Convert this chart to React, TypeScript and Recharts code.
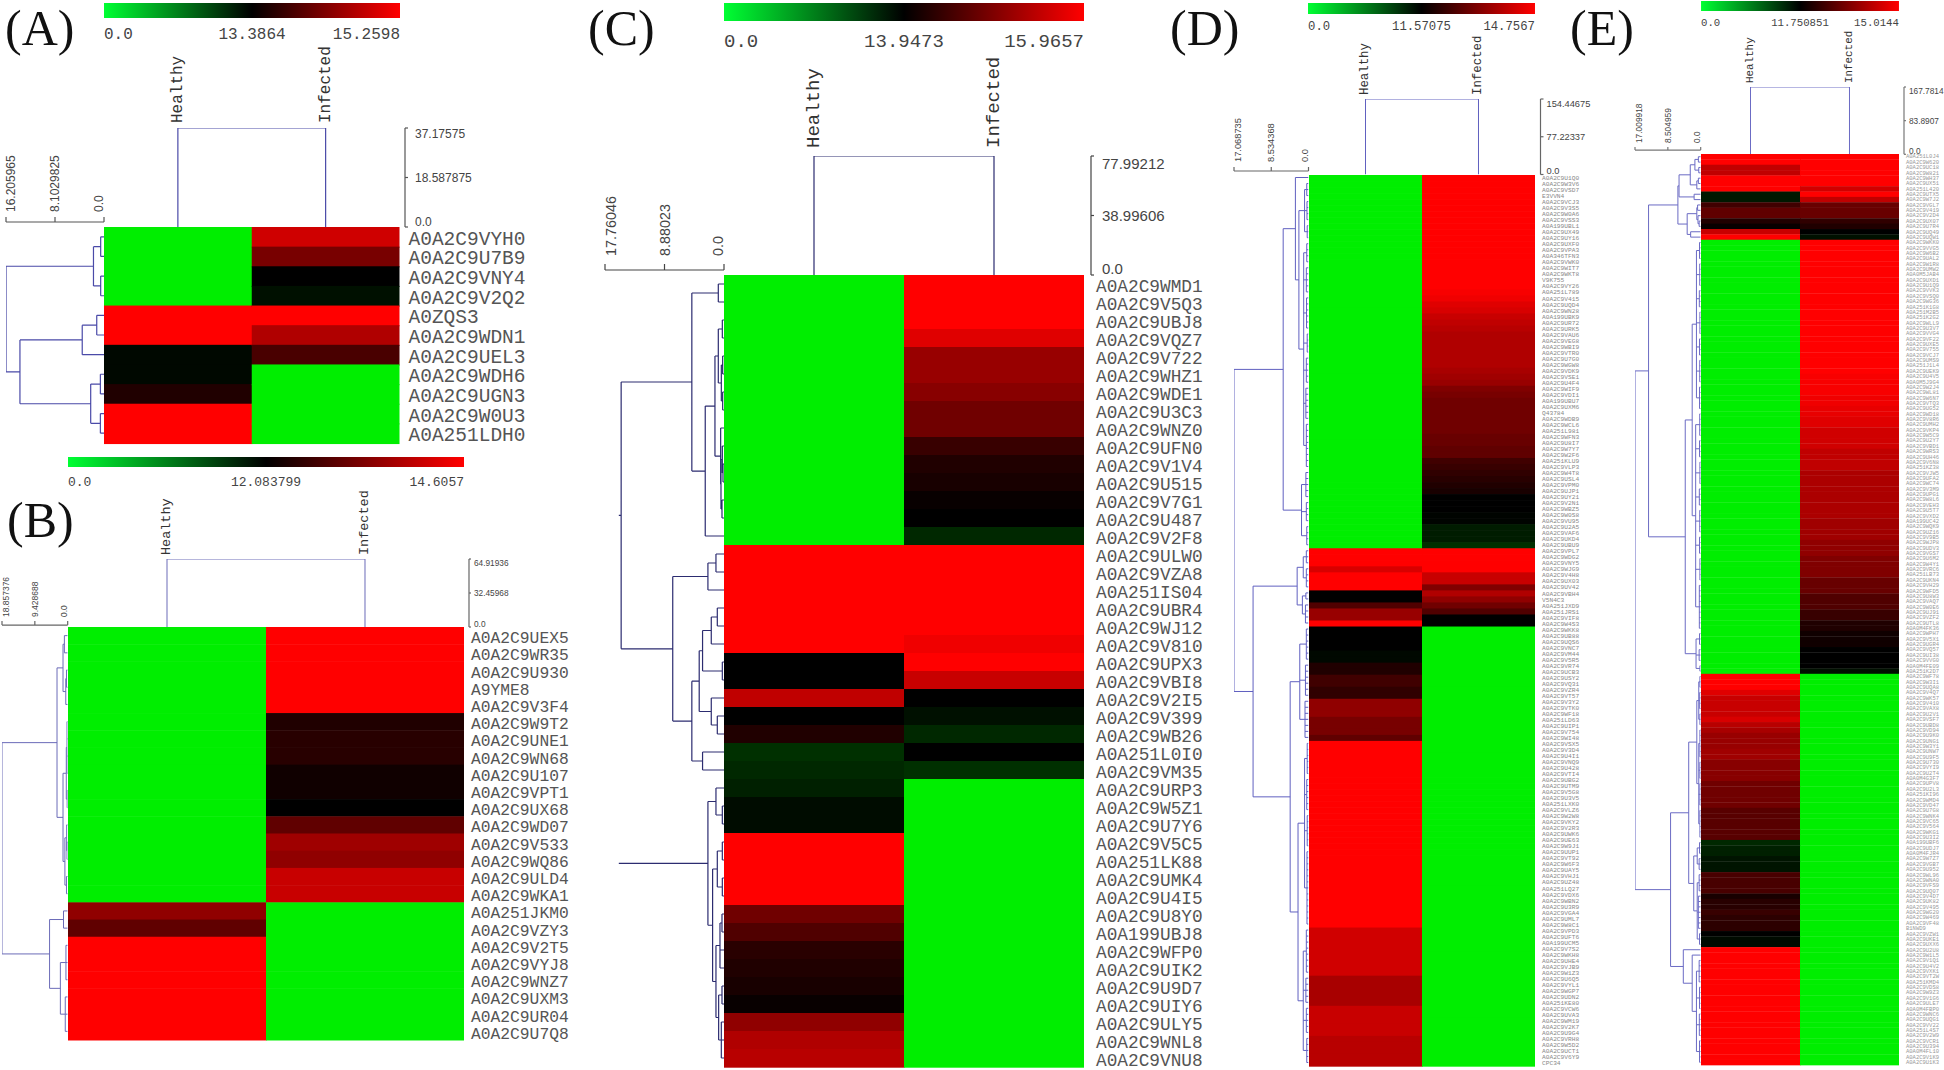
import { BarChart, Bar, LineChart, Line, XAxis, YAxis } from 'recharts'

type Tree = number | Tree[]

const MONO = '"Liberation Mono", monospace'
const SANS = '"Liberation Sans", Arial, sans-serif'

const columns = ['Healthy', 'Infected']

// panel A
const labelsA = ['VYH0', 'U7B9', 'VNY4', 'V2Q2', 'A0ZQS3', 'WDN1', 'UEL3', 'WDH6', 'UGN3', 'W0U3', 'A0A251LDH0']
const healthyA = [0, 0, 0, 0, 15.26, 15.26, 12.95, 12.95, 13.62, 15.26, 15.26]
const infectedA = [14.91, 14.27, 13.39, 12.5, 15.26, 14.68, 13.92, 0, 0, 0, 0]
const colorTicksA = ['0.0', '13.3864', '15.2598']
const leftTicksA = [0, 8.1029825, 16.205965]
const topTicksA = [0, 18.587875, 37.17575]
const treeA: Tree = [16.2, [1.74, [0.55, 0, 1], [0.55, 2, 3]], [13.9, [3.6, [1.2, 4, 5], 6], [2.2, [0.6, 7, 8], [0.6, 9, 10]]]]

// panel B
const labelsB = ['UEX5', 'WR35', 'U930', 'A9YME8', 'V3F4', 'W9T2', 'UNE1', 'WN68', 'U107', 'VPT1', 'UX68', 'WD07', 'V533', 'WQ86', 'ULD4', 'WKA1', 'A0A251JKM0', 'VZY3', 'V2T5', 'VYJ8', 'WNZ7', 'UXM3', 'UR04', 'U7Q8']
const healthyB = [0, 0, 0, 0, 0, 0, 0, 0, 0, 0, 0, 0, 0, 0, 0, 0, 13.51, 13.03, 14.61, 14.61, 14.61, 14.61, 14.61, 14.61]
const infectedB = [14.61, 14.61, 14.61, 14.61, 14.61, 12.4, 12.48, 12.48, 12.24, 12.24, 12.08, 13.03, 13.66, 13.51, 14.06, 14.06, 0, 0, 0, 0, 0, 0, 0, 0]
const colorTicksB = ['0.0', '12.083799', '14.6057']
const leftTicksB = [0, 9.428688, 18.857376]
const topTicksB = [0, 32.45968, 64.91936]
const treeB: Tree = [18.857,
  [3.06,
    [1.34, [0.95, 0, 1], [0.55, [0.35, 2, 3], 4]],
    [1.34, [0.4, [0.2, 5, 6, 7, 8], [0.15, 9, 10]], [0.8, [0.3, 11, [0.2, 12, 13]], [0.35, 14, 15]]]],
  [5.2, [1.2, 16, 17], [2.1, [0.5, 18, 19, 20], [0.7, 21, 22, 23]]]]

// panel C
const labelsC = ['WMD1', 'V5Q3', 'UBJ8', 'VQZ7', 'V722', 'WHZ1', 'WDE1', 'U3C3', 'WNZ0', 'UFN0', 'V1V4', 'U515', 'V7G1', 'U487', 'V2F8', 'ULW0', 'VZA8', 'A0A251IS04', 'UBR4', 'WJ12', 'V810', 'UPX3', 'VBI8', 'V2I5', 'V399', 'WB26', 'A0A251L0I0', 'VM35', 'URP3', 'W5Z1', 'U7Y6', 'V5C5', 'A0A251LK88', 'UMK4', 'U4I5', 'U8Y0', 'A0A199UBJ8', 'WFP0', 'UIK2', 'U9D7', 'UIY6', 'ULY5', 'WNL8', 'VNU8']
const healthyC = [
  0, 0, 0, 0, 0, 0, 0, 0, 0, 0,
  0, 0, 0, 0, 0, 15.97, 15.97, 15.97, 15.97, 15.97,
  15.97, 13.95, 13.95, 15.47, 13.95, 14.2, 11.16, 11.62, 12.09, 13.25,
  13.25, 15.97, 15.97, 15.97, 15.97, 14.83, 14.58, 14.27, 14.2, 14.14,
  14.01, 15.09, 15.34, 15.4]
const infectedC = [
  15.97, 15.97, 15.97, 15.72, 15.15, 15.15, 15.02, 14.83, 14.83, 14.39,
  14.2, 14.14, 14.01, 13.95, 11.62, 15.97, 15.97, 15.97, 15.97, 15.97,
  15.85, 15.97, 15.53, 13.95, 13.02, 11.62, 13.95, 11.16, 0, 0,
  0, 0, 0, 0, 0, 0, 0, 0, 0, 0,
  0, 0, 0, 0]
const colorTicksC = ['0.0', '13.9473', '15.9657']
const leftTicksC = [0, 8.88023, 17.76046]
const topTicksC = [0, 38.99606, 77.99212]
const treeC: Tree = [15.7,
  [15.35,
    [4.8, [0.85, 0, 1],
      [2.8,
        [1.35,
          [0.85, [0.25, 2, 3], [0.4, [0.2, 4, 5], [0.2, 6, 7]]],
          [0.5, 8, [0.45, [0.25, 9, [0.15, 10, 11]], [0.3, 12, 13]]]],
        14]],
    [7.65,
      [2.4, [1.2, 15, 16], 17],
      [4.8,
        [3.7,
          [3.2, [1.9, [1, 18, 19], 20], [0.25, 21, 22]],
          [1.9, 23, [1, 24, 25]]],
        [3.2, 26, 27]]]],
  [2.4,
    [1.2, 28, [0.25, 29, 30]],
    [1.7, [1, [0.25, 31, 32], [0.25, 33, 34]],
      [1.2, [0.6, [0.3, 35, 36], 37, 38], [0.8, [0.3, 39, 40], [0.4, 41, 42, 43]]]]]]

// panel D
const labelsD = [
  'U1Q0', 'W3V6', 'VSD7', 'E3VVN4', 'VCJ3', 'V3S5', 'W0A6', 'VSS3', 'A0A199UBL1', 'UX49',
  'UY16', 'UXF0', 'VPA3', 'A0A346TFN3', 'VWK0', 'WIT7', 'WKT8', 'V9K755', 'VY26', 'A0A251L789',
  'V415', 'UQD4', 'WN28', 'A0A199UBK9', 'UR72', 'URK5', 'VAU6', 'VEG8', 'WBI9', 'VTR0',
  'U7G0', 'WGW8', 'VDK9', 'VSE1', 'U4F4', 'WIF9', 'VDI1', 'A0A199UBU7', 'UXM6', 'Q43784',
  'WDB9', 'WCL6', 'A0A251L981', 'WFN3', 'U8I7', 'W7Y7', 'W2F6', 'A0A251KLU9', 'VLP3', 'W4T8',
  'USL4', 'VPM0', 'UJP1', 'UY21', 'V2N1', 'WBZ5', 'W0S8', 'VU95', 'U2A5', 'VAF6',
  'UKD4', 'UBU9', 'VPL7', 'WDG2', 'VNY5', 'WJG9', 'V4H8', 'UX03', 'UV42', 'VBH4',
  'V5N4C3', 'A0A251JXD9', 'A0A251JRS1', 'VIF8', 'W4S3', 'WKK8', 'UB88', 'UQS6', 'VNC7', 'VM44',
  'V5R5', 'VR74', 'UCB3', 'USY2', 'VQ31', 'VZR4', 'VT57', 'V3Y2', 'VTK0', 'WF18',
  'A0A251LD63', 'UIP1', 'V754', 'WI48', 'VSX5', 'V3D4', 'U4I1', 'VNQ9', 'U428', 'VTI4',
  'UBG2', 'UTM9', 'V5G8', 'U3V5', 'A0A251LXK0', 'VLZ6', 'W2W8', 'VKY2', 'V2R3', 'UWK6',
  'UE63', 'W9J1', 'UUP1', 'VT92', 'W6F3', 'UAY5', 'VHJ1', 'UZ48', 'A0A251LQ27', 'VDX6',
  'WBN2', 'U3R9', 'VGA4', 'UML7', 'W8C1', 'VPD3', 'UFT6', 'A0A199UCM5', 'V7S2', 'WKH8',
  'UHE4', 'VJB9', 'W1Z3', 'U6Q5', 'VYL1', 'WGP7', 'UDN2', 'A0A251KE80', 'VCW6', 'UVA3',
  'WM19', 'V2K7', 'U9G4', 'VRH8', 'W5D2', 'UCT1', 'V6Y9', 'CPC34']
const healthyD = [
  0, 0, 0, 0, 0, 0, 0, 0, 0, 0,
  0, 0, 0, 0, 0, 0, 0, 0, 0, 0,
  0, 0, 0, 0, 0, 0, 0, 0, 0, 0,
  0, 0, 0, 0, 0, 0, 0, 0, 0, 0,
  0, 0, 0, 0, 0, 0, 0, 0, 0, 0,
  0, 0, 0, 0, 0, 0, 0, 0, 0, 0,
  0, 0, 14.76, 14.76, 14.76, 14.27, 14.76, 14.76, 14.76, 11.57,
  11.57, 12.57, 13.47, 13.47, 14.76, 11.57, 11.57, 11.57, 11.57, 11.18,
  11.18, 11.97, 11.97, 12.37, 12.37, 12.17, 12.17, 13.37, 13.37, 13.37,
  13.07, 13.07, 13.07, 12.77, 14.76, 14.76, 14.76, 14.76, 14.76, 14.76,
  14.76, 14.76, 14.76, 14.76, 14.76, 14.76, 14.76, 14.76, 14.76, 14.76,
  14.76, 14.76, 14.76, 14.76, 14.76, 14.76, 14.76, 14.76, 14.76, 14.76,
  14.76, 14.76, 14.76, 14.76, 14.76, 14.17, 14.17, 14.17, 14.17, 14.17,
  14.17, 14.17, 14.17, 13.67, 13.67, 13.67, 13.67, 13.67, 14.07, 14.07,
  14.07, 14.07, 14.07, 13.87, 13.87, 13.87, 13.87, 13.87]
const infectedD = [
  14.76, 14.76, 14.76, 14.76, 14.76, 14.76, 14.76, 14.76, 14.76, 14.76,
  14.76, 14.76, 14.76, 14.76, 14.76, 14.76, 14.76, 14.76, 14.76, 14.67,
  14.57, 14.37, 14.27, 14.07, 13.97, 13.87, 13.77, 13.77, 13.77, 13.77,
  13.77, 13.77, 13.67, 13.57, 13.47, 13.17, 13.07, 12.97, 12.97, 12.97,
  12.97, 12.97, 12.97, 12.87, 12.87, 12.77, 12.77, 12.37, 12.27, 12.17,
  12.07, 11.97, 11.87, 11.57, 11.57, 11.57, 11.37, 11.37, 10.22, 10.22,
  10.22, 9.26, 14.76, 14.76, 14.76, 14.76, 14.07, 14.07, 13.17, 13.77,
  13.37, 12.97, 12.57, 11.57, 11.57, 0, 0, 0, 0, 0,
  0, 0, 0, 0, 0, 0, 0, 0, 0, 0,
  0, 0, 0, 0, 0, 0, 0, 0, 0, 0,
  0, 0, 0, 0, 0, 0, 0, 0, 0, 0,
  0, 0, 0, 0, 0, 0, 0, 0, 0, 0,
  0, 0, 0, 0, 0, 0, 0, 0, 0, 0,
  0, 0, 0, 0, 0, 0, 0, 0, 0, 0,
  0, 0, 0, 0, 0, 0, 0, 0]
const colorTicksD = ['0.0', '11.57075', '14.7567']
const leftTicksD = [0, 8.534368, 17.068735]
const topTicksD = [0, 77.22337, 154.44675]
const treeD: Tree = [17.07,
  [5.8,
    [3, 0, [2.2,
      [0.9, [0.4, 1, 2, 3], [0.35, 4, 5, 6, 7], [0.3, 8, 9, 10]],
      [1.1, [0.4, 11, 12, 13, 14], [0.5, 15, 16, 17, 18, 19], [0.45, 20, 21, 22, 23, 24, 25], [0.3, 26, 27, 28, 29], [0.5, 30, 31, 32, 33, 34], [0.6, 35, 36, 37, 38, 39, 40], [0.5, 41, 42, 43, 44, 45, 46, 47, 48]]]],
    [1.6, [0.6, 49, 50, 51, 52, 53], [0.5, 54, 55, 56, 57], [0.4, 58, 59, 60, 61]]],
  [12.7,
    [2.6, [1.2, [0.5, 62, 63, 64], [0.5, 65, 66, 67, 68]], [1.4, [0.6, 69, 70], [0.7, 71, 72, 73, 74]]],
    [4.2,
      [2, [0.5, 75, 76, 77, 78, 79, 80], [0.7, 81, 82, 83, 84, 85, 86], [0.8, 87, 88, 89, 90, 91, 92, 93]],
      [2.4,
        [0.9, [0.3, 94, 95, 96, 97, 98, 99], [0.4, 100, 101, 102, 103, 104, 105], [0.3, 106, 107, 108, 109, 110, 111], [0.35, 112, 113, 114, 115, 116, 117, 118, 119, 120, 121, 122, 123, 124]],
        [1.2, [0.5, 125, 126, 127, 128, 129, 130, 131, 132], [0.6, 133, 134, 135, 136, 137], [0.5, 138, 139, 140, 141, 142], [0.4, 143, 144, 145, 146, 147]]]]]]

// panel E
const labelsE = [
  'A0A251L0J4', 'W620', 'UC18', 'W821', 'WH37', 'UX51', 'A0A251L420', 'UTX5', 'W7J2', 'VGL7',
  'V419', 'V2D4', 'UX07', 'U7R4', 'UQ49', 'UQW1', 'WKK0', 'VVG5', 'W6B2', 'UAL2',
  'W1R8', 'UMW2', 'A0A0M5JAB4', 'UXD1', 'U1Q9', 'VVK3', 'VSQ0', 'WG36', 'A0A251K1G8', 'A0A251M2B5',
  'A0A251K2G2', 'WLL9', 'U3V7', 'VVG4', 'VF22', 'UXE5', 'V755', 'VCJ7', 'UMS9', 'A0A251J1L4',
  'UEK9', 'U4V5', 'A0A0M5J9G4', 'W2J4', 'WL81', 'W6N7', 'VTQ3', 'UG52', 'WD18', 'V8R6',
  'UMH2', 'VKP4', 'W5C9', 'U2Y7', 'VBD1', 'WRS3', 'UH46', 'V6N8', 'A0A251KZ38', 'VJW5',
  'UFA2', 'WC74', 'V3M9', 'UPG1', 'W8L6', 'VEH3', 'U5T7', 'VXD2', 'A0A199UC42', 'WQK9',
  'UZ16', 'V9B5', 'WJP8', 'UDV3', 'VGS7', 'U6M2', 'W4Y1', 'VRC6', 'A0A251LB73', 'UKN4',
  'VH29', 'WFD5', 'U8W3', 'VAQ7', 'W0E6', 'UJ91', 'VZF2', 'UTL8', 'A0A0M4FK36', 'WPH7',
  'V5X1', 'UGR4', 'VQ57', 'UI38', 'VVG0', 'A0A0M4FE09', 'A0A251K2D7', 'WF78', 'W3I1', 'UQA8',
  'V4Q7', 'WK57', 'V410', 'VAX8', 'U2V1', 'VSF7', 'UBD8', 'VD94', 'U9K0', 'UNG1',
  'W3Y1', 'UNW7', 'U9F5', 'U730', 'VYI9', 'U2T4', 'A0A0M4G3F7', 'UPV8', 'U2L3', 'A0A251KI96',
  'WMD4', 'VD47', 'U7G8', 'WNK4', 'VC65', 'V564', 'WKG1', 'U3I2', 'A0A199UBF6', 'UDJ7',
  'A0A0M4FJR4', 'W7Z7', 'VGB7', 'U952', 'WL96', 'WNA0', 'VFS9', 'UQ07', 'V4D7', 'UK82',
  'V495', 'WG20', 'W469', 'VF48', 'B1NWD9', 'VZW1', 'UKE1', 'UXX6', 'U2U8', 'W1L5',
  'V1Q1', 'U4V2', 'VXK1', 'VT2W', 'A0A251KMD4', 'VDS8', 'W9Z3', 'V1G6', 'ULE7', 'A0A0M4FBP0',
  'WNC6', 'UQG1', 'VV22', 'A0A251L4S7', 'V2W9', 'VCR1', 'U394', 'A0A0M4FL10', 'V1K9', 'U1K3']
const healthyE = [
  15.01, 15.01, 14.21, 14.21, 15.01, 15.01, 15.01, 10.58, 10.58, 12.57,
  12.98, 12.98, 12.16, 11.85, 14.31, 15.01, 0, 0, 0, 0,
  0, 0, 0, 0, 0, 0, 0, 0, 0, 0,
  0, 0, 0, 0, 0, 0, 0, 0, 0, 0,
  0, 0, 0, 0, 0, 0, 0, 0, 0, 0,
  0, 0, 0, 0, 0, 0, 0, 0, 0, 0,
  0, 0, 0, 0, 0, 0, 0, 0, 0, 0,
  0, 0, 0, 0, 0, 0, 0, 0, 0, 0,
  0, 0, 0, 0, 0, 0, 0, 0, 0, 0,
  0, 0, 0, 0, 0, 0, 0, 15.01, 15.01, 15.01,
  14.62, 14.31, 14.31, 14.31, 14.31, 14.51, 14.11, 13.9, 13.7, 13.7,
  13.7, 13.8, 13.8, 13.49, 13.49, 13.49, 13.49, 13.18, 13.18, 13.18,
  13.18, 13.18, 12.88, 12.88, 12.88, 12.88, 12.88, 12.88, 9.79, 10.18,
  10.18, 10.77, 10.77, 10.77, 12.67, 12.67, 12.67, 12.67, 12.06, 12.26,
  12.26, 12.47, 12.31, 12.31, 12.31, 11.75, 11.26, 11.26, 15.01, 15.01,
  15.01, 15.01, 15.01, 15.01, 15.01, 15.01, 15.01, 15.01, 15.01, 15.01,
  15.01, 15.01, 15.01, 15.01, 15.01, 15.01, 15.01, 15.01, 15.01, 15.01]
const infectedE = [
  15.01, 15.01, 15.01, 15.01, 15.01, 15.01, 14.41, 15.01, 14.21, 13.08,
  13.08, 13.08, 12.36, 12.16, 11.75, 10.97, 15.01, 15.01, 15.01, 15.01,
  15.01, 15.01, 15.01, 15.01, 15.01, 15.01, 15.01, 15.01, 15.01, 15.01,
  15.01, 15.01, 15.01, 15.01, 15.01, 15.01, 15.01, 15.01, 15.01, 15.01,
  15.01, 14.92, 14.92, 14.92, 14.92, 14.82, 14.82, 14.72, 14.72, 14.62,
  14.62, 14.41, 14.41, 14.41, 14.41, 14.21, 14.21, 14.21, 14.21, 13.95,
  13.95, 13.95, 13.95, 13.95, 13.95, 13.95, 13.95, 13.95, 13.8, 13.8,
  13.8, 13.8, 13.6, 13.6, 13.6, 13.39, 13.39, 13.39, 13.39, 13.08,
  13.08, 13.08, 12.77, 12.77, 12.77, 12.47, 12.47, 12.16, 12.16, 11.95,
  11.95, 11.95, 11.75, 11.75, 11.75, 11.75, 10.97, 0, 0, 0,
  0, 0, 0, 0, 0, 0, 0, 0, 0, 0,
  0, 0, 0, 0, 0, 0, 0, 0, 0, 0,
  0, 0, 0, 0, 0, 0, 0, 0, 0, 0,
  0, 0, 0, 0, 0, 0, 0, 0, 0, 0,
  0, 0, 0, 0, 0, 0, 0, 0, 0, 0,
  0, 0, 0, 0, 0, 0, 0, 0, 0, 0,
  0, 0, 0, 0, 0, 0, 0, 0, 0, 0]
const colorTicksE = ['0.0', '11.750851', '15.0144']
const leftTicksE = [0, 8.504959, 17.009918]
const topTicksE = [0, 83.8907, 167.7814]
const treeE: Tree = [17.0,
  [13.5,
    [5.9,
      [5.6, [2.7, [1.5, [0.6, 0, 1], [0.5, 2, 3]], [1, [0.6, 4, 5], 6]], [1.7, 7, 8]],
      [3.5, [1, [0.8, 9, 10], [0.7, 11, [0.4, 12, 13]]], [2.6, 14, 15]]],
    [4,
      [2.2,
        [1.1,
          [0.3, 16, 17, 18, 19], [0.25, 20, 21, 22, 23, 24], [0.35, 25, 26, 27, 28], [0.2, 29, 30, 31, 32, 33],
          [0.3, 34, 35, 36, 37], [0.25, 38, 39, 40, 41, 42], [0.3, 43, 44, 45, 46, 47]],
        [1.3,
          [0.25, 48, 49, 50, 51, 52], [0.3, 53, 54, 55, 56], [0.2, 57, 58, 59, 60, 61], [0.35, 62, 63, 64, 65],
          [0.25, 66, 67, 68, 69, 70], [0.3, 71, 72, 73, 74], [0.2, 75, 76, 77, 78, 79], [0.35, 80, 81, 82, 83, 84, 85, 86, 87, 88]]],
      [1.2, [0.3, 89, 90, 91], [0.4, 92, 93, 94], [0.2, 95, 96]]]],
  [7.8,
    [3.1,
      [1,
        [0.5, [0.2, 97, 98, 99], [0.25, 100, 101, 102, 103], [0.2, 104, 105, 106]],
        [0.5, [0.2, 107, 108, 109, 110, 111, 112], [0.2, 113, 114, 115, 116], [0.2, 117, 118, 119, 120, 121], [0.2, 122, 123, 124, 125, 126, 127]]],
      [1.8,
        [0.9, [0.3, 128, 129, 130], [0.4, 131, 132, 133]],
        [0.9, [0.4, 134, 135, 136, 137], [0.6, 138, 139, 140, 141, 142, 143, 144], [0.3, 145, 146, 147]]]],
    [4.5, 148, [2.2, 149,
      [1.1,
        [0.4, 150, 151, 152, 153, 154], [0.3, 155, 156, 157, 158, 159],
        [0.35, 160, 161, 162, 163, 164], [0.3, 165, 166, 167, 168, 169]]]]]]

function fullName(s: string) {
  return s.length === 4 ? `A0A2C9${s}` : s
}

// green below mid, black at mid, red up to max
function heatColor(v: number, mid: number, max: number) {
  if (v <= mid) return `rgb(0,${Math.round(238 * (1 - v / mid))},0)`
  return `rgb(${Math.round(255 * Math.min(1, (v - mid) / (max - mid)))},0,0)`
}

function flatten(tree: Tree, out: any[], noStem: boolean): { y: number; h: number } {
  if (typeof tree === 'number') return { y: tree + 0.5, h: 0 }
  const [h, ...kids] = tree as [number, ...Tree[]]
  const pos = kids.map((k) => flatten(k, out, false))
  const y0 = pos[0].y
  const y1 = pos[pos.length - 1].y
  if (!noStem) out.push({ h, y: y0 }, { h, y: y1 }, { h, y: null })
  pos.forEach((p) => out.push({ h: p.h, y: p.y }, { h, y: p.y }, { h, y: null }))
  return { y: (y0 + y1) / 2, h }
}

function tickText(v: number) {
  return v === 0 ? '0.0' : String(v)
}

function ColorBar({ id, p }: { id: string; p: any }) {
  const axisH = p.bar.labelY - p.bar.y - p.bar.h + p.bar.font
  const ticks = p.colorTicks as string[]
  return (
    <div style={{ position: 'absolute', left: p.bar.x, top: p.bar.y }}>
      <BarChart width={p.bar.w} height={p.bar.h + axisH} data={[{ name: 'scale', v: 1 }]} layout="vertical" margin={{ top: 0, right: 0, bottom: 0, left: 0 }} barCategoryGap={0}>
        <defs>
          <linearGradient id={id} x1="0" y1="0" x2="1" y2="0">
            <stop offset="0%" stopColor="#00ff33" />
            <stop offset="50%" stopColor="#000000" />
            <stop offset="100%" stopColor="#ff0000" />
          </linearGradient>
        </defs>
        <XAxis
          type="number"
          domain={[0, 1]}
          ticks={[0, 0.5, 1]}
          height={axisH}
          axisLine={false}
          tickLine={false}
          tickSize={0}
          tickMargin={0}
          interval={0}
          tick={(t: any) => (
            <text x={t.x} y={t.y + p.bar.labelY - p.bar.y - p.bar.h} fontFamily={MONO} fontSize={p.bar.font} fill="#444" dominantBaseline="central" textAnchor={t.index === 0 ? 'start' : t.index === 1 ? 'middle' : 'end'}>
              {ticks[t.index]}
            </text>
          )}
        />
        <YAxis type="category" dataKey="name" hide />
        <Bar dataKey="v" fill={`url(#${id})`} isAnimationActive={false} />
      </BarChart>
    </div>
  )
}

function HeatMap({ p }: { p: any }) {
  const { mid, max } = p
  const rows = p.labels.map((s: string, i: number) => ({ name: fullName(s), healthy: p.healthy[i], infected: p.infected[i], a: 1, b: 1 }))
  const labelW = p.labelW
  // each cell runs a little past its lower edge so rows don't show hairline gaps
  const cell = (key: string, overlapX: number) => (b: any) => (
    <rect x={b.x} y={b.y} width={b.width + overlapX} height={b.height + 0.7} fill={heatColor(b.payload[key], mid, max)} />
  )
  return (
    <div style={{ position: 'absolute', left: p.heat.x, top: p.heat.y }}>
      <BarChart width={p.heat.w + labelW} height={p.heat.h + 8} data={rows} layout="vertical" margin={{ top: 0, right: 0, bottom: 8, left: 0 }} barCategoryGap={0}>
        <XAxis type="number" domain={[0, 2]} hide />
        <YAxis
          type="category"
          dataKey="name"
          orientation="right"
          width={labelW}
          interval={0}
          axisLine={false}
          tickLine={false}
          tickSize={0}
          tickMargin={0}
          tick={(t: any) => (
            <text x={t.x + p.labelGap} y={t.y + p.labelDy} fontFamily={MONO} fontSize={p.labelFont} fill={p.labelColor} dominantBaseline="central">
              {t.payload.value}
            </text>
          )}
        />
        <Bar dataKey="a" stackId="s" isAnimationActive={false} shape={cell('healthy', 0.6)} />
        <Bar dataKey="b" stackId="s" isAnimationActive={false} shape={cell('infected', 0)} />
      </BarChart>
    </div>
  )
}

function RowDendrogram({ p }: { p: any }) {
  const s = p.left
  const points: any[] = []
  flatten(p.tree, points, !!p.noRootStem)
  const maxH = p.leftTicks[2]
  const axisH = s.axisH
  const bottom = p.heat.y + p.heat.h
  const rowH = p.heat.h / p.labels.length
  const side = 10
  return (
    <div style={{ position: 'absolute', left: s.x - side, top: s.y - axisH }}>
      <LineChart width={p.heat.x - s.x + side * 2} height={axisH + bottom - s.y} data={points} margin={{ top: 0, right: side, bottom: 0, left: side }}>
        <XAxis
          type="number"
          dataKey="h"
          orientation="top"
          reversed
          domain={[0, maxH]}
          ticks={p.leftTicks}
          height={axisH}
          interval={0}
          allowDataOverflow
          stroke={p.axisColor}
          axisLine={{ stroke: p.axisColor, strokeWidth: 1.2 }}
          tickLine={{ stroke: p.axisColor, strokeWidth: 1.2 }}
          tickSize={s.tick}
          tickMargin={0}
          tick={(t: any) => {
            const v = t.payload.value
            const shift = v === 0 ? -s.font * 0.42 : v === maxH ? s.font * 0.42 : 0
            const yy = axisH - s.labelBottom
            return (
              <text transform={`rotate(-90 ${t.x + shift} ${yy})`} x={t.x + shift} y={yy} fontFamily={SANS} fontSize={s.font} fill="#444" dominantBaseline="central">
                {tickText(v)}
              </text>
            )
          }}
        />
        <YAxis type="number" reversed hide domain={[-(p.heat.y - s.y) / rowH, p.labels.length]} allowDataOverflow />
        <Line dataKey="y" stroke={p.lineColor} strokeWidth={p.lineWidth} dot={false} activeDot={false} isAnimationActive={false} connectNulls={false} />
      </LineChart>
    </div>
  )
}

function ColumnDendrogram({ p }: { p: any }) {
  const s = p.top
  const maxH = p.topTicks[2]
  const colW = p.heat.w / 2
  const extra = (s.x - p.heat.x - p.heat.w) / colW
  const axisH = s.axisH
  const bracket = [
    { col: 0, h: p.topTicks[0] },
    { col: 0, h: maxH },
    { col: 1, h: maxH },
    { col: 1, h: p.topTicks[0] },
  ]
  const rightW = s.rightW
  const pad = s.font
  return (
    <div style={{ position: 'absolute', left: p.heat.x, top: s.y - axisH }}>
      <LineChart width={s.x - p.heat.x + rightW} height={axisH + p.heat.y - s.y + pad} data={bracket} margin={{ top: 0, right: 0, bottom: pad, left: 0 }}>
        <XAxis
          type="number"
          dataKey="col"
          orientation="top"
          domain={[-0.5, 1.5 + extra]}
          ticks={[0, 1]}
          height={axisH}
          interval={0}
          allowDataOverflow
          axisLine={false}
          tickLine={false}
          tickSize={0}
          tickMargin={0}
          tick={(t: any) => (
            <text transform={`rotate(-90 ${t.x} ${axisH - s.labelGap})`} x={t.x} y={axisH - s.labelGap} fontFamily={MONO} fontSize={s.colFont} fill="#333" dominantBaseline="central">
              {columns[t.payload.value]}
            </text>
          )}
        />
        <YAxis
          type="number"
          orientation="right"
          domain={[0, maxH]}
          ticks={p.topTicks}
          width={rightW}
          interval={0}
          allowDataOverflow
          axisLine={{ stroke: p.axisColor, strokeWidth: 1.2 }}
          tickLine={{ stroke: p.axisColor, strokeWidth: 1.2 }}
          tickSize={s.tick}
          tickMargin={0}
          tick={(t: any) => {
            const v = t.payload.value
            const shift = v === 0 ? -s.font * 0.42 : v === maxH ? s.font * 0.5 : 0
            return (
              <text x={t.x + s.labelGapX} y={t.y + shift} fontFamily={SANS} fontSize={s.font} fill="#444" dominantBaseline="central">
                {tickText(v)}
              </text>
            )
          }}
        />
        <Line dataKey="h" stroke={p.lineColor} strokeWidth={p.lineWidth} dot={false} activeDot={false} isAnimationActive={false} />
      </LineChart>
    </div>
  )
}

const panels = [
  {
    name: '(A)', letter: { x: 5, y: -1 }, mid: 13.3864, max: 15.2598, labels: labelsA, healthy: healthyA, infected: infectedA, colorTicks: colorTicksA, leftTicks: leftTicksA, topTicks: topTicksA, tree: treeA,
    bar: { x: 104, y: 3, w: 296, h: 15, font: 16, labelY: 35 },
    heat: { x: 104, y: 227, w: 295.5, h: 216 }, labelW: 145, labelGap: 9, labelDy: 3, labelFont: 19.5, labelColor: '#555',
    left: { x: 6, y: 222, axisH: 75, tick: 5, font: 12, labelBottom: 10 },
    top: { x: 405, y: 128, axisH: 100, tick: 3, font: 12, colFont: 16, labelGap: 5, rightW: 70, labelGapX: 7 },
    axisColor: '#555', lineColor: '#4a4aa8', lineWidth: 1.2,
  },
  {
    name: '(B)', letter: { x: 7, y: 491 }, mid: 12.083799, max: 14.6057, labels: labelsB, healthy: healthyB, infected: infectedB, colorTicks: colorTicksB, leftTicks: leftTicksB, topTicks: topTicksB, tree: treeB,
    bar: { x: 68, y: 457, w: 396, h: 10, font: 13, labelY: 482 },
    heat: { x: 68, y: 627, w: 396, h: 413 }, labelW: 115, labelGap: 7, labelDy: 3, labelFont: 16.3, labelColor: '#555',
    left: { x: 2.3, y: 625, axisH: 55, tick: 4, font: 8.5, labelBottom: 8 },
    top: { x: 469, y: 559, axisH: 80, tick: 2, font: 8.3, colFont: 13.5, labelGap: 4, rightW: 50, labelGapX: 3 },
    axisColor: '#666', lineColor: '#6a6ab8', lineWidth: 1,
  },
  {
    name: '(C)', letter: { x: 588, y: -1 }, mid: 13.9473, max: 15.9657, labels: labelsC, healthy: healthyC, infected: infectedC, colorTicks: colorTicksC, leftTicks: leftTicksC, topTicks: topTicksC, tree: treeC, noRootStem: true,
    bar: { x: 724, y: 3, w: 360, h: 18, font: 19, labelY: 42 },
    heat: { x: 724, y: 275, w: 360, h: 792 }, labelW: 125, labelGap: 12, labelDy: 3, labelFont: 17.8, labelColor: '#555',
    left: { x: 605, y: 270, axisH: 85, tick: 6, font: 14.4, labelBottom: 14 },
    top: { x: 1091, y: 156, axisH: 110, tick: 3, font: 15, colFont: 19, labelGap: 8, rightW: 80, labelGapX: 8 },
    axisColor: '#444', lineColor: '#2c2c70', lineWidth: 1.2,
  },
  {
    name: '(D)', letter: { x: 1170, y: -1 }, mid: 11.57075, max: 14.7567, labels: labelsD, healthy: healthyD, infected: infectedD, colorTicks: colorTicksD, leftTicks: leftTicksD, topTicks: topTicksD, tree: treeD,
    bar: { x: 1308, y: 3, w: 227, h: 11, font: 12.3, labelY: 27 },
    heat: { x: 1308.5, y: 174.5, w: 226, h: 891 }, labelW: 50, labelGap: 7, labelDy: 0.6, labelFont: 6.2, labelColor: '#888',
    left: { x: 1234, y: 171, axisH: 55, tick: 4, font: 9.3, labelBottom: 9 },
    top: { x: 1540, y: 99, axisH: 68, tick: 3, font: 9.3, colFont: 12.4, labelGap: 4, rightW: 55, labelGapX: 3 },
    axisColor: '#666', lineColor: '#6060c0', lineWidth: 1,
  },
  {
    name: '(E)', letter: { x: 1570, y: -1 }, mid: 11.750851, max: 15.0144, labels: labelsE, healthy: healthyE, infected: infectedE, colorTicks: colorTicksE, leftTicks: leftTicksE, topTicks: topTicksE, tree: treeE,
    bar: { x: 1701, y: 1, w: 198, h: 10, font: 10.7, labelY: 23 },
    heat: { x: 1701, y: 154, w: 198, h: 911 }, labelW: 42, labelGap: 7, labelDy: 0.3, labelFont: 5.5, labelColor: '#999',
    left: { x: 1635.3, y: 150, axisH: 50, tick: 3, font: 8.4, labelBottom: 7 },
    top: { x: 1904, y: 86.7, axisH: 62, tick: 2, font: 8.3, colFont: 10.9, labelGap: 4, rightW: 40, labelGapX: 3 },
    axisColor: '#777', lineColor: '#6a6ac4', lineWidth: 1,
  },
]

export default function App() {
  return (
    <div style={{ position: 'absolute', left: 0, top: 0, width: 1944, height: 1070, background: '#fff', overflow: 'hidden' }}>
      {panels.map((p) => (
        <div key={p.name}>
          <div style={{ position: 'absolute', left: p.letter.x, top: p.letter.y, fontFamily: '"Liberation Serif", serif', fontSize: 50, lineHeight: '58px', color: '#111' }}>{p.name}</div>
          <ColorBar id={`bar${p.name[1]}`} p={p} />
          <ColumnDendrogram p={p} />
          <RowDendrogram p={p} />
          <HeatMap p={p} />
        </div>
      ))}
    </div>
  )
}
